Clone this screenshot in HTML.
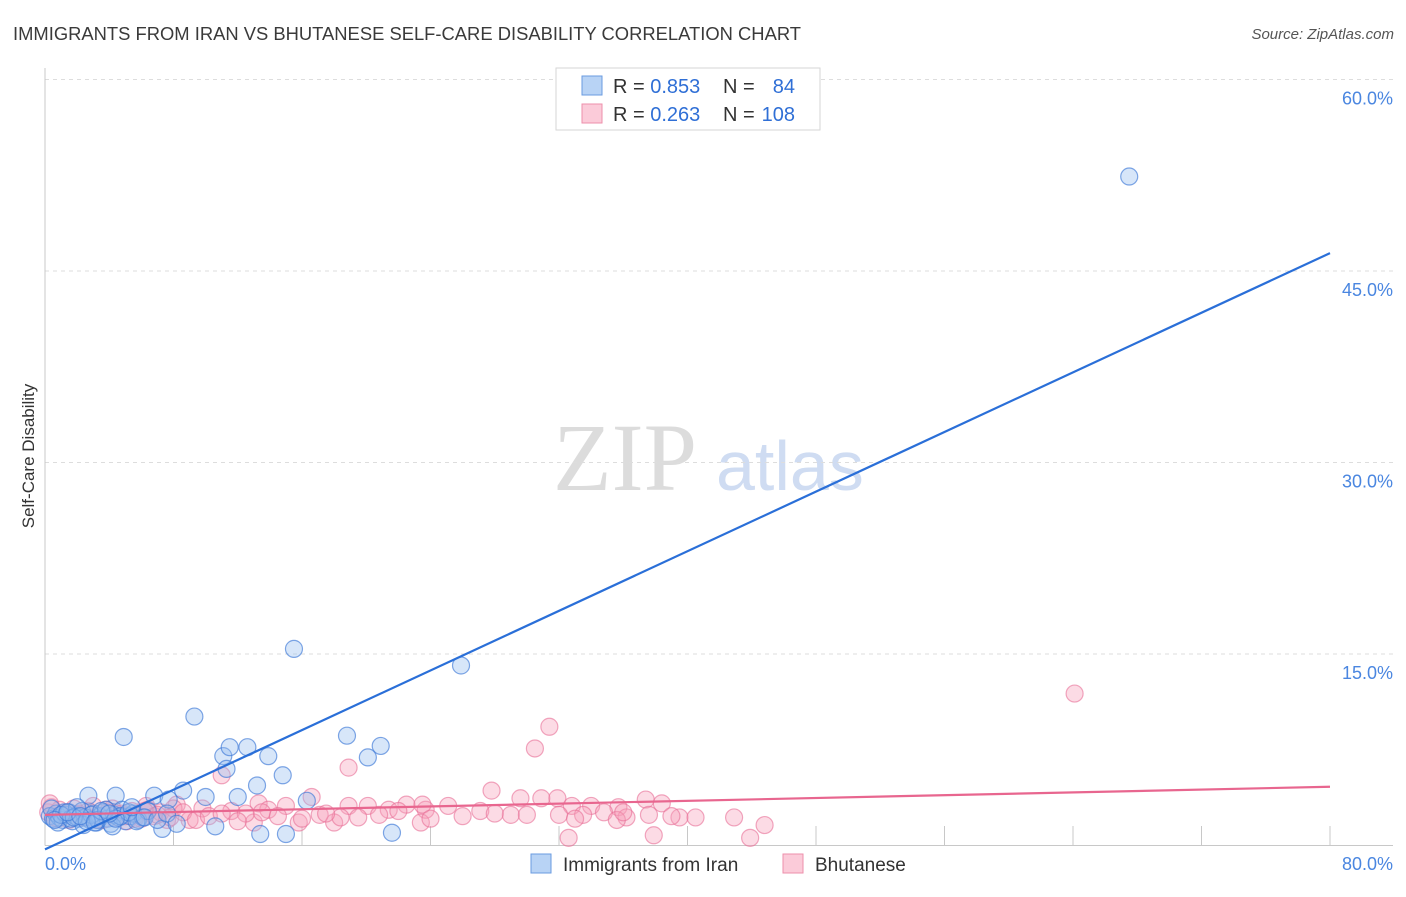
<!DOCTYPE html>
<html><head><meta charset="utf-8">
<style>
html,body{margin:0;padding:0;background:#fff;}
body{width:1406px;height:892px;overflow:hidden;font-family:"Liberation Sans",sans-serif;}
</style></head>
<body>
<svg id="chart" width="1406" height="892" xmlns="http://www.w3.org/2000/svg" style="font-family:'Liberation Sans',sans-serif">
<text x="13" y="40" font-size="18" fill="#3a3a3a" textLength="788" lengthAdjust="spacingAndGlyphs">IMMIGRANTS FROM IRAN VS BHUTANESE SELF-CARE DISABILITY CORRELATION CHART</text>
<text x="1394" y="39" font-size="15" fill="#555" font-style="italic" text-anchor="end">Source: ZipAtlas.com</text>
<text transform="translate(34,456) rotate(-90)" font-size="17" fill="#333" text-anchor="middle">Self-Care Disability</text>
<g>
<text x="553" y="490" font-size="96" font-family="'Liberation Serif',serif" fill="#dcdcdc">ZIP</text>
<text x="716" y="490" font-size="70" fill="#cfdcf2">atlas</text>
</g>
<g id="grid"></g>
<g id="axes"></g>
<g id="marks"></g>
<g>
<rect x="556" y="68" width="264" height="62" fill="#fff" stroke="#d6d6d6"/>
<rect x="582" y="76" width="20" height="19" fill="#b8d3f5" stroke="#6a9be0"/>
<rect x="582" y="104" width="20" height="19" fill="#fbcbd9" stroke="#ee8fab"/>
<text x="613" y="93" font-size="20" fill="#333">R = <tspan fill="#2f6fd6">0.853</tspan></text>
<text x="723" y="93" font-size="20" fill="#333">N = </text><text x="795" y="93" font-size="20" fill="#2f6fd6" text-anchor="end">84</text>
<text x="613" y="121" font-size="20" fill="#333">R = <tspan fill="#2f6fd6">0.263</tspan></text>
<text x="723" y="121" font-size="20" fill="#333">N = </text><text x="795" y="121" font-size="20" fill="#2f6fd6" text-anchor="end">108</text>
</g>
<g>
<rect x="531" y="854" width="20" height="19" fill="#b8d3f5" stroke="#6a9be0"/>
<text x="563" y="871" font-size="19" fill="#333">Immigrants from Iran</text>
<rect x="783" y="854" width="20" height="19" fill="#fbcbd9" stroke="#ee8fab"/>
<text x="815" y="871" font-size="19" fill="#333">Bhutanese</text>
</g>
</svg>
<script>
const yTicks=[15,30,45,60];
const yTickLabels=["15.0%","30.0%","45.0%","60.0%"];
const xTickVals=[0,8,16,24,32,40,48,56,64,72,80];
const xEndLabels=["0.0%","80.0%"];
const iranX=[67.5,15.5,25.9,9.3,4.9,18.8,20.9,20.1,11.1,11.5,12.6,13.9,11.3,14.8,13.2,8.6,10,12,16.3,21.6,13.4,15,10.6,7.3,2.7,4.4,6.8,7.7,
0.3,0.5,0.7,0.9,1.1,1.3,1.5,1.7,1.9,2.1,2.3,2.5,2.8,3.0,3.2,3.4,3.6,3.9,4.1,4.3,4.6,4.8,5.0,5.3,5.5,5.8,6.1,6.4,0.4,0.8,1.2,1.6,2.0,2.4,2.9,3.3,3.8,4.2,4.7,5.2,5.7,6.2,7.0,7.6,8.2,1.0,1.8,2.6,3.5,4.4,5.4,0.6,1.4,2.2,3.1,4.0];
const iranY=[52.4,15.4,14.1,10.1,8.5,8.6,7.8,6.9,7.0,7.7,7.7,7.0,6.0,5.5,4.7,4.3,3.8,3.8,3.5,1.0,0.9,0.9,1.5,1.3,3.9,3.9,3.9,3.6,
2.3,2.1,2.5,2.2,2.0,2.4,2.6,1.9,2.3,2.1,2.7,2.2,2.0,2.5,1.8,2.3,2.6,2.1,1.7,2.4,2.2,2.8,1.9,2.3,2.5,2.0,2.2,2.7,2.9,1.8,2.6,2.1,3.0,1.6,2.4,2.0,2.8,1.5,2.3,2.6,1.9,2.2,2.0,2.5,1.7,2.4,2.2,1.9,2.7,2.1,3.0,2.0,2.6,2.3,1.8,2.5];
const bhuX=[64.1,31.4,30.5,18.9,11,16.6,27.8,29.6,30.9,31.9,37.4,38.4,32.8,34,35.7,25.1,23.7,18.9,20.1,21.4,22.5,23.5,27.1,29,32,33.5,34.8,36.2,37.6,39.5,40.5,42.9,44.8,43.9,32.6,37.9,35.6,23.4,15.8,13,18,13.3,15,13.9,9.8,8.2,6.3,11.6,12.5,9,17.1,18.4,
0.2,0.4,0.6,0.9,1.2,1.5,1.8,2.1,2.4,2.7,3.0,3.3,3.6,3.9,4.2,4.5,4.8,5.1,5.4,5.7,6.0,6.4,6.8,7.2,7.6,8.0,0.3,0.8,1.4,2.0,2.6,3.2,3.8,4.4,5.0,5.6,6.2,7.0,7.8,8.6,9.4,10.2,11.0,12.0,13.5,14.5,16,17.5,19.5,20.8,22,24,26,28,30,33,36,39];
const bhuY=[11.9,9.3,7.6,6.1,5.5,3.8,4.3,3.7,3.7,3.7,3.6,3.3,3.1,3.1,3.0,3.1,2.8,3.1,3.1,2.8,3.2,3.2,2.7,2.4,2.4,2.4,2.6,2.2,2.4,2.2,2.2,2.2,1.6,0.6,0.6,0.8,2.0,1.8,1.8,1.8,1.8,3.3,3.1,2.8,2.9,3.2,3.1,2.7,2.5,2.0,2.4,2.2,
2.6,3.0,2.2,2.8,2.4,2.0,2.9,2.5,2.2,2.7,3.1,2.3,2.0,2.6,2.9,2.2,2.5,1.9,2.7,2.4,2.1,2.8,2.3,2.6,2.0,2.9,3.3,2.1,2.6,2.4,2.2,2.0,2.8,2.5,2.3,2.1,2.7,2.4,2.2,2.6,2.0,2.3,2.5,1.9,2.6,2.3,2.1,2.5,2.2,2.4,2.7,2.1,2.3,2.5,2.4,2.1,2.6,2.3];
const iranTrend=[-0.3,46.4];
const bhuTrend=[2.4,4.6];

const X0=45,X1=1330,Y0=845.5,Ypx=191.5/15;
const sx=v=>X0+(v/80)*(X1-X0);
const sy=v=>Y0-v*Ypx;
const NS="http://www.w3.org/2000/svg";
function mk(tag,attrs,parent){const e=document.createElementNS(NS,tag);for(const k in attrs)e.setAttribute(k,attrs[k]);parent.appendChild(e);return e;}
const grid=document.getElementById('grid'),axes=document.getElementById('axes'),marks=document.getElementById('marks');
yTicks.forEach((t,i)=>{
  const l=mk('line',{x1:X0,x2:1393,y1:sy(t),y2:sy(t),stroke:'#dddddd','stroke-dasharray':'4,4'},grid);
  
  
  const tx=mk('text',{x:1393,y:sy(t)+25,'font-size':18,fill:'#4a86e0','text-anchor':'end'},axes);
  tx.textContent=yTickLabels[i];
  
  
});
const ax=mk('line',{x1:X0,x2:X0,y1:68,y2:Y0,stroke:'#c8c8c8'},axes);


const bx=mk('line',{x1:X0,x2:1393,y1:Y0,y2:Y0,stroke:'#c8c8c8'},axes);


xTickVals.forEach(v=>{
  const t=mk('line',{x1:sx(v),x2:sx(v),y1:826,y2:Y0,stroke:'#c8c8c8'},axes);
  
  
});
const xl0=mk('text',{x:45,y:870,'font-size':18,fill:'#4a86e0'},axes);xl0.textContent=xEndLabels[0];


const xl1=mk('text',{x:1393,y:870,'font-size':18,fill:'#4a86e0','text-anchor':'end'},axes);xl1.textContent=xEndLabels[1];



const nB=Math.min(bhuX.length,bhuY.length);
for(let i=0;i<nB;i++){
  const c=mk('circle',{cx:sx(bhuX[i]),cy:sy(bhuY[i]),r:8.5,fill:'rgba(246,160,186,0.38)',stroke:'rgba(232,110,150,0.6)','stroke-width':1.2},marks);
  
  
}
const nI=Math.min(iranX.length,iranY.length);
for(let i=0;i<nI;i++){
  const c=mk('circle',{cx:sx(iranX[i]),cy:sy(iranY[i]),r:8.5,fill:'rgba(150,190,240,0.38)',stroke:'rgba(60,120,215,0.65)','stroke-width':1.2},marks);
  
  
}
const l1=mk('line',{x1:sx(0),y1:sy(iranTrend[0]),x2:sx(80),y2:sy(iranTrend[1]),stroke:'#2a6fd8','stroke-width':2.2},marks);


const l2=mk('line',{x1:sx(0),y1:sy(bhuTrend[0]),x2:sx(80),y2:sy(bhuTrend[1]),stroke:'#e8668f','stroke-width':2.2},marks);


</script>
</body></html>
